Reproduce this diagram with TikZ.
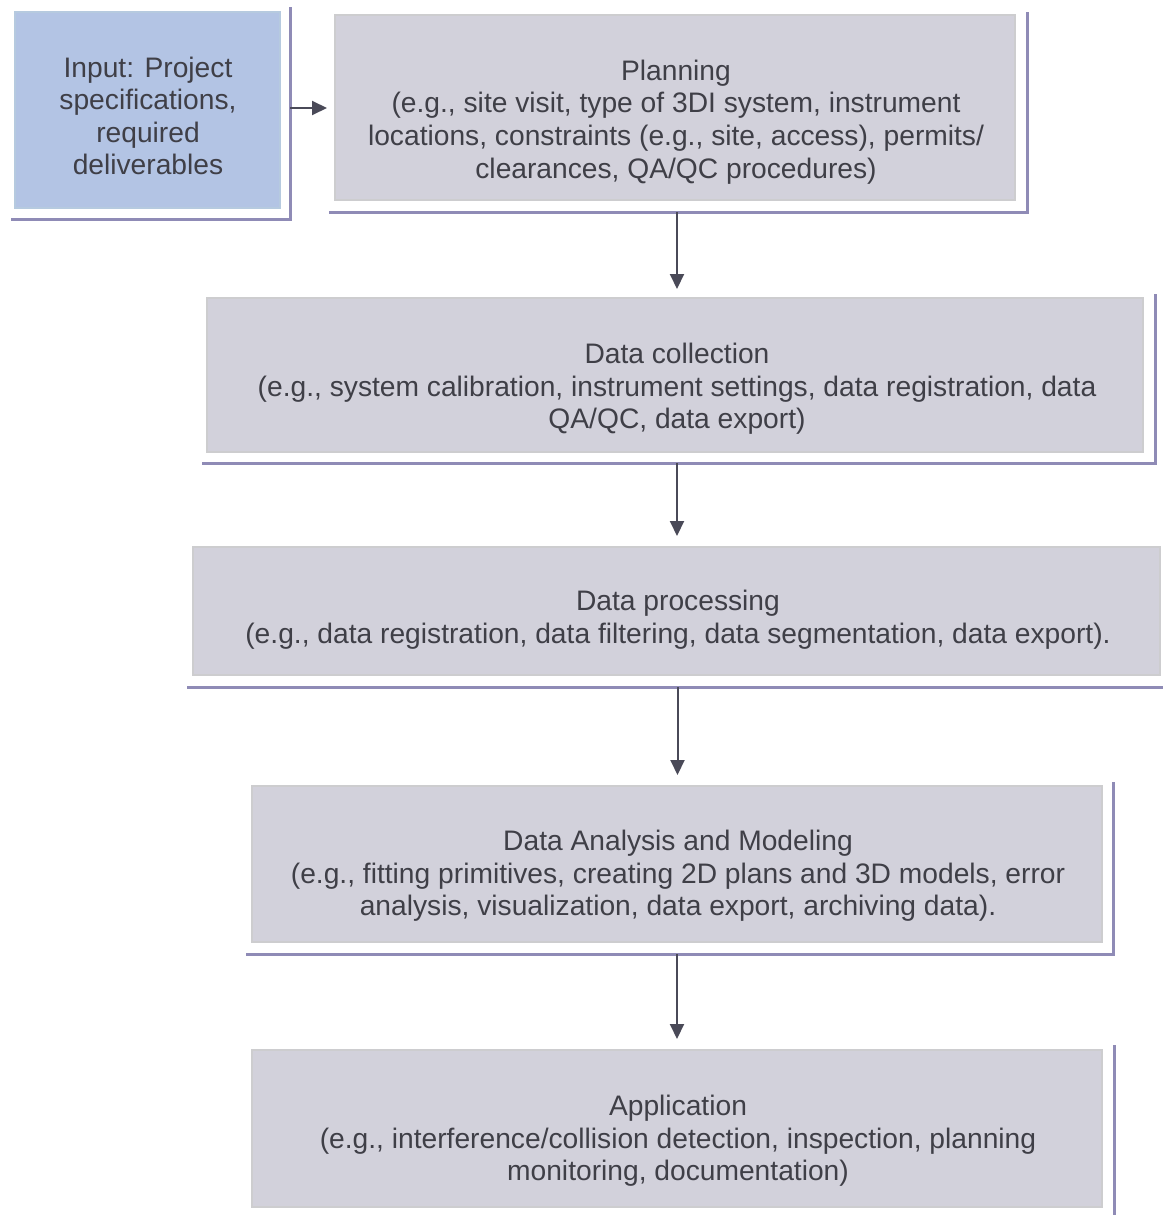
\documentclass[tikz,border=0pt]{standalone}
\usepackage{fontspec}
\setmainfont{Liberation Sans}
\usetikzlibrary{arrows.meta}
\definecolor{boxfill}{HTML}{D2D1DB}
\definecolor{boxedge}{HTML}{CDCDCF}
\definecolor{inputfill}{HTML}{B3C4E4}
\definecolor{inputedge}{HTML}{B6CADF}
\definecolor{frameblue}{HTML}{8F8BB6}
\definecolor{textgray}{HTML}{3F3F47}
\definecolor{arrowgray}{HTML}{4A4A58}

\begin{document}
\begin{tikzpicture}[x=0.5pt,y=-0.5pt,
    stage/.style={rectangle,fill=boxfill,draw=boxedge,line width=1pt,inner sep=0pt},
    inputbox/.style={stage,fill=inputfill,draw=inputedge},
    stagetext/.style={align=center,text=textgray,inner sep=0pt,
        font=\fontsize{14.1}{16.3}\selectfont},
    frameline/.style={draw=frameblue,line width=1.5pt},
    flow/.style={draw=arrowgray,line width=1pt,-{Triangle[length=7.5pt,width=7pt]}}]
    \useasboundingbox (0,0) rectangle (1162,1215);
    \fill[white] (0,0) rectangle (1162,1215);

    % boxes
    \node[inputbox,minimum width=132.5pt,minimum height=98pt] (input) at (147.5,110) {};
    \node[stage,minimum width=340pt,minimum height=92.5pt] (plan) at (675,107.5) {};
    \node[stage,minimum width=468pt,minimum height=77pt] (coll) at (675,375) {};
    \node[stage,minimum width=483.5pt,minimum height=64pt] (proc) at (676.5,611) {};
    \node[stage,minimum width=425pt,minimum height=78pt] (anal) at (677,864) {};
    \node[stage,minimum width=425pt,minimum height=78.5pt] (app) at (677,1128.5) {};

    % frame lines
    \draw[frameline] ([shift={(-3,10)}]input.south west) -| ([shift={(9,-4)}]input.north east);
    \draw[frameline] ([shift={(-5,11)}]plan.south west) -| ([shift={(11,-2)}]plan.north east);
    \draw[frameline] ([shift={(-4,10)}]coll.south west) -| ([shift={(11,-3)}]coll.north east);
    \draw[frameline] ([shift={(-5,11)}]proc.south west) -- ([shift={(2,11)}]proc.south east);
    \draw[frameline] ([shift={(-5,11)}]anal.south west) -| ([shift={(10,-3)}]anal.north east);
    \draw[frameline] ([shift={(11,-4)}]app.north east) -- ([shift={(11,8)}]app.south east);

    % texts
    \node[stagetext] (inputtext) at (148,116)
        {Input: Project\\specifications,\\required\\deliverables};
    \node[stagetext] (plantext) at (676,122)
        {Planning\\(e.g., site visit, type of 3DI system, instrument\\locations, constraints (e.g., site, access), permits/\\clearances, QA/QC procedures)};
    \node[stagetext] (colltext) at (677,389)
        {Data collection\\(e.g., system calibration, instrument settings, data registration, data\\QA/QC, data export)};
    \node[stagetext] (proctext) at (678,620)
        {Data processing\\(e.g., data registration, data filtering, data segmentation, data export).};
    \node[stagetext] (analtext) at (678,876)
        {Data Analysis and Modeling\\(e.g., fitting primitives, creating 2D plans and 3D models, error\\analysis, visualization, data export, archiving data).};
    \node[stagetext] (apptext) at (678,1141)
        {Application\\(e.g., interference/collision detection, inspection, planning\\monitoring, documentation)};

    % arrows
    \draw[flow] ([shift={(9,-2)}]input.east) -- ([shift={(-7,-2)}]input.east -| plan.west);
    \draw[flow] ([shift={(2,11)}]plan.south) -- ([shift={(2,-8)}]plan.south |- coll.north);
    \draw[flow] ([shift={(2,10)}]coll.south) -- ([shift={(2,-10)}]coll.south |- proc.north);
    \draw[flow] ([shift={(1,11)}]proc.south) -- ([shift={(1,-10)}]proc.south |- anal.north);
    \draw[flow] ([shift={(0,11)}]anal.south) -- ([shift={(0,-10)}]anal.south |- app.north);
\end{tikzpicture}
\end{document}
